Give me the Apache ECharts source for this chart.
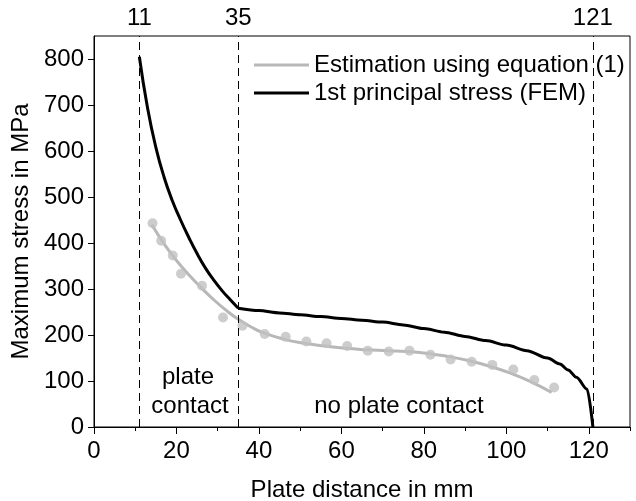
<!DOCTYPE html>
<html><head><meta charset="utf-8">
<script src="https://cdn.jsdelivr.net/npm/echarts@6/dist/echarts.min.js"></script>
<style>html,body{margin:0;padding:0;background:#fff}#c{width:636px;height:501px}</style>
</head><body><div id="c"></div>
<script>
// FEM 1st principal stress (black line): plate-contact part and free part
const femContactX = [11,13,15,17,19,21,23,25,27,29,31,33,35];
const femContactY = [805,693,608,543,492,450,412,377,346,320,297,277,258];
const femFreeX = [35,40,45,50,55,60,65,70,75,80,85,90,95,100,105,110,113,115,117,119.6,121];
const femFreeY = [258,253,248,244,240,236,232,228,222,214,206,197,188,178,166,150,137,124,108,82,0];
// Estimation using equation (1) (gray line)
const estX = [14,17,20,23,26,29,32,35,38,41,46,51,56,61,66,71,76,81,86,91,96,101,106,111];
const estY = [440,398,362,331,303,277,254,234,218,205,191,182,176,171,168,166,164,160,153,144,132,117,98,75];
// Gray measurement dots
const dotX = [14.2,16.3,19.1,21.1,26.2,31.3,36,41.4,46.5,51.5,56.4,61.4,66.4,71.5,76.5,81.6,86.5,91.6,96.6,101.7,106.8,111.6];
const dotY = [443,405,373,333,307,238,220,202,196,186,182,176,166,164,166,157,147,142,135,125,102,86];
// Region borders
const borders = [11, 35, 121];
const yTicks = [0,100,200,300,400,500,600,700,800];
const xMajor = [0,20,40,60,80,100,120];

const zip = (a,b) => a.map((v,i)=>[v,b[i]]);
const FONT = 'Liberation Sans';
const FS = 24;
const GRAY = '#b8b8b8';
const chart = echarts.init(document.getElementById('c'), null, {renderer:'canvas'});
chart.setOption({
  animation:false,
  backgroundColor:'#fff',
  textStyle:{fontFamily:FONT},
  grid:{left:94,right:6,top:36,bottom:74,containLabel:false,outerBoundsMode:'none',
    show:true,borderColor:'#000',borderWidth:1,backgroundColor:'transparent'},
  legend:{
    left:245, top:37, orient:'vertical', icon:'rect', itemWidth:55, itemHeight:3, itemGap:4,
    padding:[16,0,2,9], backgroundColor:'#fff',
    textStyle:{fontFamily:FONT,fontSize:FS,lineHeight:24,color:'#000'},
    data:['Estimation using equation (1)','1st principal stress (FEM)']
  },
  xAxis:[
    {type:'value',min:0,max:130,interval:10,position:'bottom',
     name:'Plate distance in mm',nameLocation:'middle',nameGap:51,
     nameTextStyle:{fontFamily:FONT,fontSize:FS,color:'#000'},
     axisLine:{show:true,lineStyle:{color:'#000',width:1}},
     axisTick:{show:true,inside:false,length:4,lineStyle:{color:'#000'}},
     axisLabel:{margin:12,fontFamily:FONT,fontSize:FS,color:'#000',
       formatter:v=>(v%20===0 && v<=120)?String(v):''},
     splitLine:{show:false}},
    {type:'value',min:0,max:130,position:'bottom',offset:0,
     axisLine:{show:false},
     axisTick:{show:true,length:7,customValues:xMajor,lineStyle:{color:'#000'}},
     axisLabel:{show:false},splitLine:{show:false}},
    {type:'value',min:0,max:130,position:'top',
     axisLine:{show:false},axisTick:{show:false},
     axisLabel:{show:true,customValues:borders,margin:6,fontFamily:FONT,fontSize:FS,color:'#000'},
     splitLine:{show:false}}
  ],
  yAxis:{type:'value',min:0,max:850,interval:100,
    name:'Maximum stress in MPa',nameLocation:'middle',nameGap:51,nameRotate:90,
    nameTextStyle:{fontFamily:FONT,fontSize:FS,color:'#000'},
    axisLine:{show:true,lineStyle:{color:'#000',width:1}},
    axisTick:{show:true,length:6,customValues:yTicks,lineStyle:{color:'#000'}},
    axisLabel:{margin:10,customValues:yTicks,fontFamily:FONT,fontSize:FS,color:'#000'},
    splitLine:{show:false}},
  series:[
    {name:'Estimation using equation (1)',type:'line',xAxisIndex:0,data:zip(estX,estY),
     symbol:'none',smooth:0.5,lineStyle:{color:GRAY,width:3},itemStyle:{color:GRAY},z:3},
    {name:'dots',type:'scatter',xAxisIndex:0,data:zip(dotX,dotY),symbolSize:10,
     itemStyle:{color:'#c0c0c0'},z:3},
    {name:'1st principal stress (FEM)',type:'line',xAxisIndex:0,data:zip(femContactX,femContactY),
     symbol:'none',smooth:0.5,lineStyle:{color:'#000',width:3},itemStyle:{color:'#000'},z:3,
     markLine:{silent:true,symbol:'none',label:{show:false},
       lineStyle:{color:'#000',width:1,type:[8,5]},
       data:borders.map(b=>({xAxis:b}))}},
    {name:'1st principal stress (FEM)',type:'line',xAxisIndex:0,data:zip(femFreeX,femFreeY),
     symbol:'none',smooth:0.3,smoothMonotone:'x',lineStyle:{color:'#000',width:3},itemStyle:{color:'#000'},z:3}
  ],
  graphic:[
    {type:'text',x:188,y:377,style:{text:'plate',font:FS+'px "Liberation Sans"',fill:'#000',align:'center',verticalAlign:'middle'}},
    {type:'text',x:190,y:406,style:{text:'contact',font:FS+'px "Liberation Sans"',fill:'#000',align:'center',verticalAlign:'middle'}},
    {type:'text',x:399,y:406,style:{text:'no plate contact',font:FS+'px "Liberation Sans"',fill:'#000',align:'center',verticalAlign:'middle'}}
  ]
});
</script></body></html>
